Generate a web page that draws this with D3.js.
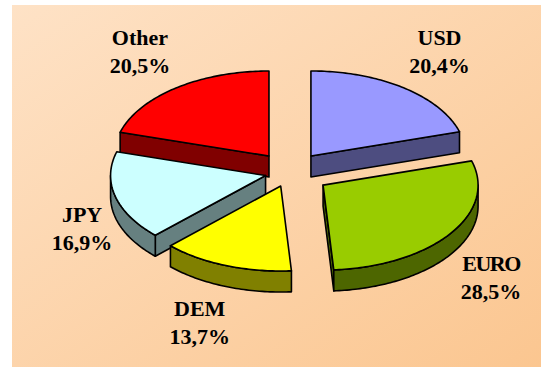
<!DOCTYPE html>
<html>
<head>
<meta charset="utf-8">
<script src="https://cdn.jsdelivr.net/npm/d3@7"></script>
<style>
  html, body { margin: 0; padding: 0; background: #ffffff; }
  svg { display: block; }
</style>
</head>
<body>
<script>
// Currency shares
const currencies  = ["USD", "EURO", "DEM", "JPY", "Other"];
const shares      = [20.4, 28.5, 13.7, 16.9, 20.5];
const shareLabels = ["20,4%", "28,5%", "13,7%", "16,9%", "20,5%"];

// Styling per slice
const topColors     = ["#9999FF", "#99CC00", "#FFFF00", "#CCFFFF", "#FF0000"];
const explodeFactor = [1, 1.15, 0.75, 0.72, 1];
const labelShift    = [[12, -8], [12, 26], [-9, 20], [15, 23], [-12, -8]];

const W = 541, H = 367;
const svg = d3.select("body").append("svg").attr("width", W).attr("height", H);

// Background panel with diagonal gradient
const grad = svg.append("defs").append("linearGradient")
  .attr("id", "bg").attr("x1", 0).attr("y1", 0).attr("x2", 1).attr("y2", 1);
grad.append("stop").attr("offset", "0%").attr("stop-color", "#FEE2C6");
grad.append("stop").attr("offset", "100%").attr("stop-color", "#FBC690");
svg.append("rect").attr("x", 12).attr("y", 5)
  .attr("width", W - 12).attr("height", H - 5).attr("fill", "url(#bg)");

// 3D pie geometry
const cx = 290, cy = 172;   // pie centre
const rx = 155, ry = 85;    // ellipse radii of the tilted disc
const depth = 21;           // slab thickness
const ex = 35, ey = 20;     // explosion distance
const labelRx = 230, labelRy = 140;

const pie = d3.pie().sort(null).value(d => d);
const arcs = pie(shares);

const half = c => { const k = d3.rgb(c); return d3.rgb(k.r * 0.5, k.g * 0.5, k.b * 0.5).formatHex(); };

function rimPoints(ox, oy, a0, a1, dy) {
  const n = Math.max(2, Math.ceil((a1 - a0) / (Math.PI / 180)));
  const pts = [];
  for (let i = 0; i <= n; i++) {
    const a = a0 + (a1 - a0) * i / n;
    pts.push([ox + rx * Math.sin(a), oy - ry * Math.cos(a) + dy]);
  }
  return pts;
}

const line = d3.line();
const slices = arcs.map((a, i) => {
  const mid = (a.startAngle + a.endAngle) / 2;
  const f = explodeFactor[i];
  return {
    i, a, mid,
    ox: cx + ex * f * Math.sin(mid),
    oy: cy - ey * f * Math.cos(mid)
  };
});

// paint back-to-front
const order = slices.slice().sort((p, q) => Math.cos(q.mid) - Math.cos(p.mid));

const g = svg.append("g")
  .attr("stroke", "#000").attr("stroke-width", 1.6).attr("stroke-linejoin", "round");

order.forEach(s => {
  const { ox, oy } = s;
  const a0 = s.a.startAngle, a1 = s.a.endAngle;
  const side = half(topColors[s.i]);
  const grp = g.append("g");

  // start cut face
  if (Math.sin(a0) < -1e-6) {
    const p = [ox + rx * Math.sin(a0), oy - ry * Math.cos(a0)];
    grp.append("path").attr("fill", side)
      .attr("d", line([[ox, oy], p, [p[0], p[1] + depth], [ox, oy + depth]]) + "Z");
  }
  // end cut face
  if (Math.sin(a1) > 1e-6) {
    const p = [ox + rx * Math.sin(a1), oy - ry * Math.cos(a1)];
    grp.append("path").attr("fill", side)
      .attr("d", line([[ox, oy], p, [p[0], p[1] + depth], [ox, oy + depth]]) + "Z");
  }
  // front rim
  const r0 = Math.max(a0, Math.PI / 2), r1 = Math.min(a1, 3 * Math.PI / 2);
  if (r1 > r0) {
    const topArc = rimPoints(ox, oy, r0, r1, 0);
    const botArc = rimPoints(ox, oy, r0, r1, depth).reverse();
    grp.append("path").attr("fill", side).attr("d", line(topArc.concat(botArc)) + "Z");
  }
  // top face
  grp.append("path").attr("fill", topColors[s.i])
    .attr("d", line([[ox, oy]].concat(rimPoints(ox, oy, a0, a1, 0))) + "Z");
});

// labels
const serif = "'Liberation Serif', 'Times New Roman', Tinos, 'DejaVu Serif', 'Noto Serif', serif";
slices.forEach(s => {
  const lx = cx + labelRx * Math.sin(s.mid) + labelShift[s.i][0];
  const ly = cy - labelRy * Math.cos(s.mid) + labelShift[s.i][1];
  const t = svg.append("text")
    .style("font-family", serif).style("font-weight", "bold").style("font-size", "22px")
    .attr("text-anchor", "middle").attr("fill", "#000");
  t.append("tspan").attr("x", lx).attr("y", ly - 7)
    .attr("letter-spacing", currencies[s.i] === "EURO" ? -1.5 : 0)
    .text(currencies[s.i]);
  t.append("tspan").attr("x", lx).attr("y", ly + 21).text(shareLabels[s.i]);
});
</script>
</body>
</html>
